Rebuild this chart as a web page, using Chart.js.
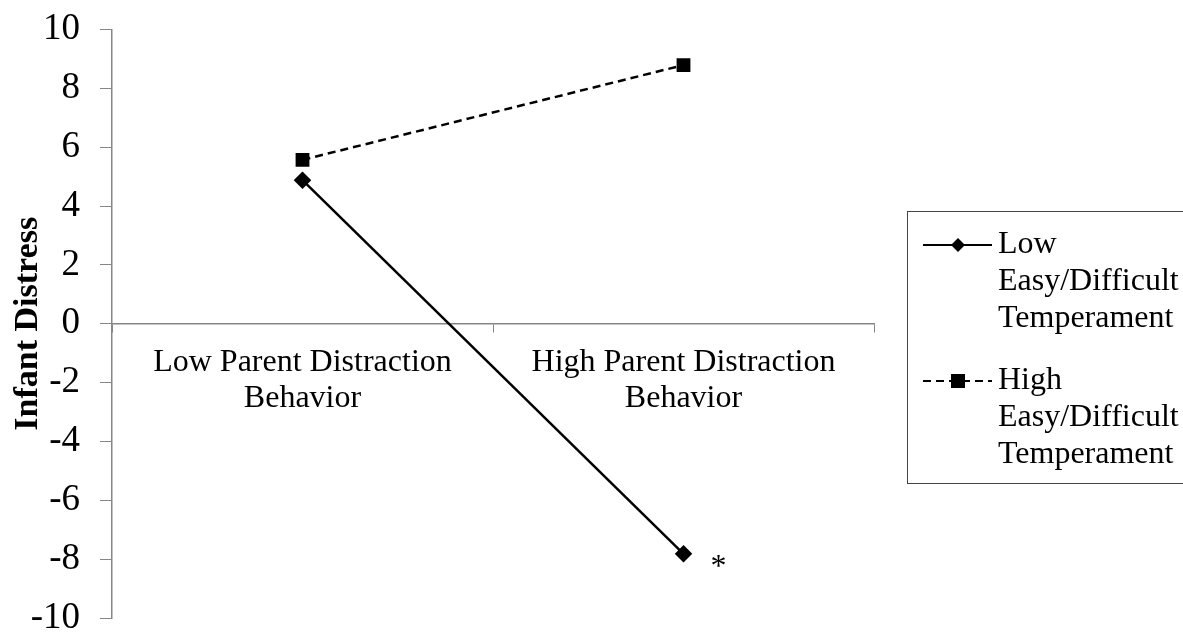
<!DOCTYPE html>
<html>
<head>
<meta charset="utf-8">
<script src="https://cdn.jsdelivr.net/npm/chart.js@4/dist/chart.umd.min.js"></script>
<style>
  html, body { margin: 0; padding: 0; background: #fff; }
  #wrap { width: 1183px; height: 634px; position: relative; }
</style>
</head>
<body>
<div id="wrap"><canvas id="distressChart"></canvas></div>
<script>
// data
const categories = [
  ["Low Parent Distraction", "Behavior"],
  ["High Parent Distraction", "Behavior"],
];
const seriesNames = [
  ["Low", "Easy/Difficult", "Temperament"],
  ["High", "Easy/Difficult", "Temperament"],
];
const lowTemperament = [4.88, -7.82];
const highTemperament = [5.57, 8.79];
const yTicks = [-10, -8, -6, -4, -2, 0, 2, 4, 6, 8, 10];
const yTitle = "Infant Distress";
const sigMark = "*"; // next to the low-temperament, high-distraction point

const serif = "'Liberation Serif', 'Times New Roman', serif";
const axisGray = "#868686";

// legend box on the right, drawn by hand because of the 3-line labels
const legendBox = {
  id: "legendBox",
  afterDraw(chart) {
    const ctx = chart.ctx;
    ctx.save();
    ctx.strokeStyle = "#444";
    ctx.lineWidth = 1;
    ctx.strokeRect(907.5, 211.5, 300, 272);

    ctx.font = "32px " + serif;
    ctx.fillStyle = "#000";
    ctx.textBaseline = "middle";
    ctx.textAlign = "left";

    const firstRows = [245, 381];
    chart.data.datasets.forEach((ds, i) => {
      const y = firstRows[i];
      ctx.strokeStyle = "#000";
      ctx.lineWidth = 2;
      ctx.setLineDash(ds.borderDash || []);
      ctx.beginPath();
      ctx.moveTo(923, y);
      ctx.lineTo(992, y);
      ctx.stroke();
      ctx.setLineDash([]);
      ctx.fillStyle = "#000";
      if (ds.pointStyle === "rect") {
        ctx.fillRect(958 - 7, y - 7, 14, 14);
      } else {
        ctx.beginPath();
        ctx.moveTo(958, y - 7);
        ctx.lineTo(965, y);
        ctx.lineTo(958, y + 7);
        ctx.lineTo(951, y);
        ctx.closePath();
        ctx.fill();
      }
      ds.label.forEach((line, k) => {
        ctx.fillText(line, 998, y + k * 37);
      });
    });

    // significance star next to the point
    const pt = chart.getDatasetMeta(0).data[1];
    ctx.font = "32px " + serif;
    ctx.textAlign = "center";
    ctx.fillText(sigMark, pt.x + 35, pt.y + 14);
    ctx.restore();
  },
};

const canvas = document.getElementById("distressChart");
new Chart(canvas, {
  type: "line",
  data: {
    labels: categories,
    datasets: [
      {
        label: seriesNames[0],
        data: lowTemperament,
        borderColor: "#000",
        backgroundColor: "#000",
        borderWidth: 2.5,
        pointStyle: "rectRot",
        pointRadius: 7,
        pointHoverRadius: 7,
        fill: false,
      },
      {
        label: seriesNames[1],
        data: highTemperament,
        borderColor: "#000",
        backgroundColor: "#000",
        borderWidth: 2.5,
        borderDash: [8, 5],
        pointStyle: "rect",
        pointRadius: 8,
        pointHoverRadius: 8,
        fill: false,
      },
    ],
  },
  options: {
    responsive: true,
    maintainAspectRatio: false,
    animation: false,
    layout: {
      padding: { left: 0, top: 29.5, right: 309, bottom: 16 },
    },
    plugins: {
      legend: { display: false },
      tooltip: { enabled: false },
    },
    scales: {
      x: {
        type: "category",
        offset: true,
        position: { y: 0 },
        grid: {
          offset: true,
          drawOnChartArea: false,
          drawTicks: true,
          tickLength: 8,
          color: axisGray,
        },
        border: { color: axisGray, width: 1.5 },
        ticks: {
          color: "#000",
          padding: 12,
          maxRotation: 0,
          autoSkip: false,
          font: { family: serif, size: 32, lineHeight: 1.15 },
        },
        afterFit(scale) {
          scale.paddingLeft = 0;
          scale.paddingRight = 0;
        },
      },
      y: {
        min: -10,
        max: 10,
        afterBuildTicks(scale) {
          scale.ticks = yTicks.map((v) => ({ value: v }));
        },
        grid: {
          drawOnChartArea: false,
          drawTicks: true,
          tickLength: 12,
          color: axisGray,
        },
        border: { color: axisGray, width: 1.5 },
        ticks: {
          color: "#000",
          padding: 20,
          font: { family: serif, size: 37, lineHeight: 1 },
        },
        title: {
          display: true,
          text: yTitle,
          color: "#000",
          padding: { top: 8, bottom: 0 },
          font: { family: serif, size: 34, weight: "bold", lineHeight: 1.2 },
        },
        afterFit(scale) {
          scale.width = 112;
          scale.paddingTop = 0;
          scale.paddingBottom = 0;
        },
      },
    },
  },
  plugins: [legendBox],
});
</script>
</body>
</html>
